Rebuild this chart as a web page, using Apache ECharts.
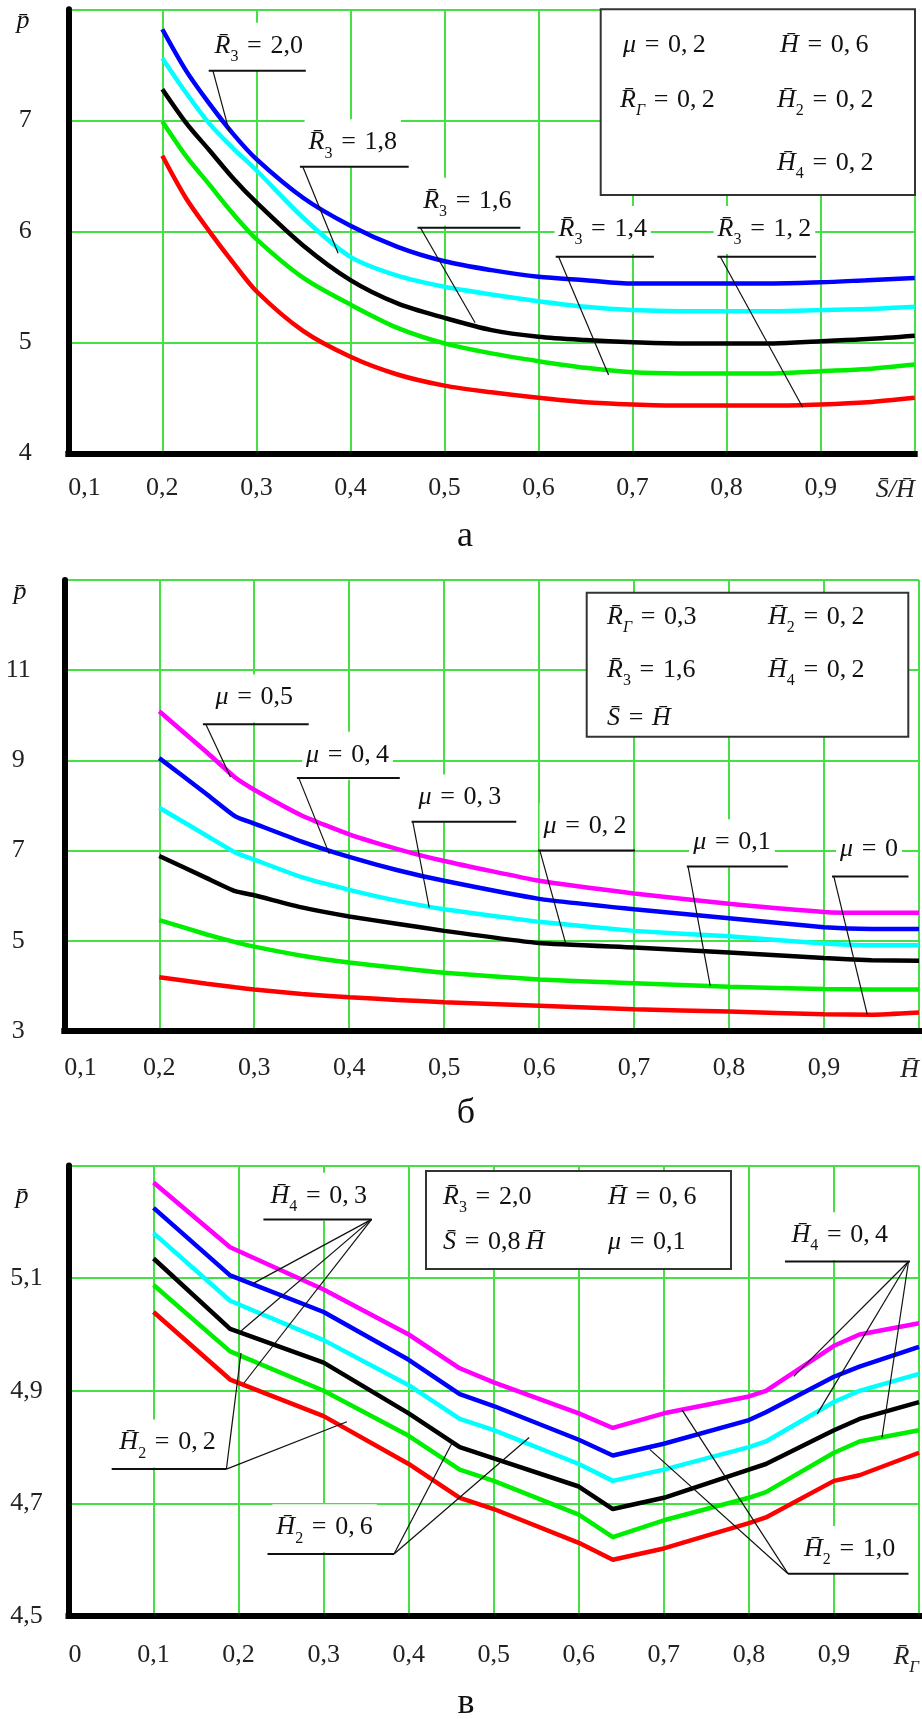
<!DOCTYPE html>
<html><head><meta charset="utf-8">
<script src="https://cdn.jsdelivr.net/npm/echarts@6/dist/echarts.min.js"></script>
<style>html,body{margin:0;padding:0;background:#fff}#c{width:922px;height:1719px}</style>
</head><body><div id="c"></div><script>
// ---------- Panel a: p vs S/H, curves for R3 ----------
const xA = [0.2,0.225,0.25,0.275,0.3,0.35,0.4,0.45,0.5,0.55,0.6,0.65,0.7,0.75,0.8,0.85,0.9,0.95,1.0];
const aR20 = [7.82,7.45,7.15,6.88,6.65,6.30,6.05,5.86,5.73,5.65,5.59,5.56,5.53,5.53,5.53,5.53,5.54,5.56,5.58];
const aR18 = [7.56,7.25,6.97,6.75,6.55,6.12,5.77,5.60,5.50,5.43,5.37,5.32,5.29,5.28,5.28,5.28,5.29,5.30,5.32];
const aR16 = [7.28,6.98,6.73,6.48,6.26,5.87,5.56,5.35,5.22,5.11,5.05,5.02,5.00,4.99,4.99,4.99,5.01,5.03,5.06];
const aR14 = [6.99,6.68,6.42,6.16,5.93,5.58,5.34,5.13,4.99,4.90,4.83,4.77,4.73,4.72,4.72,4.72,4.74,4.76,4.80];
const aR12 = [6.68,6.30,6.00,5.72,5.46,5.10,4.87,4.71,4.61,4.55,4.50,4.46,4.44,4.43,4.43,4.43,4.44,4.46,4.50];
const aXTicks = [0.1,1.0,0.1];   // min, max, step
const aYTicks = [4,8,1];

// ---------- Panel б: p vs H, curves for mu ----------
const xB = [0.2,0.25,0.28,0.3,0.35,0.4,0.45,0.5,0.6,0.7,0.8,0.9,0.95,1.0];
const bMu5 = [10.09,9.18,8.62,8.35,7.78,7.36,7.04,6.77,6.33,6.05,5.82,5.64,5.62,5.62];
const bMu4 = [9.05,8.25,7.76,7.60,7.20,6.86,6.57,6.33,5.93,5.70,5.50,5.30,5.26,5.26];
const bMu3 = [7.95,7.33,6.96,6.80,6.41,6.13,5.89,5.70,5.42,5.22,5.10,4.94,4.90,4.90];
const bMu2 = [6.88,6.39,6.10,6.01,5.74,5.54,5.38,5.22,4.95,4.85,4.74,4.62,4.57,4.56];
const bMu1 = [5.46,5.14,4.97,4.87,4.67,4.52,4.40,4.29,4.14,4.06,3.98,3.93,3.92,3.92];
const bMu0 = [4.19,4.05,3.97,3.92,3.82,3.75,3.69,3.64,3.56,3.48,3.43,3.37,3.36,3.41];
const bXTicks = [0.1,1.0,0.1];
const bYTicks = [3,13,2];

// ---------- Panel в: p vs R_Г, curves for H4 / H2 ----------
const xC = [0.1,0.19,0.3,0.4,0.46,0.5,0.6,0.64,0.7,0.8,0.82,0.9,0.93,1.0];
const cM = [5.27,5.155,5.08,5.00,4.94,4.915,4.86,4.834,4.86,4.89,4.90,4.98,5.00,5.02];
const cB = [5.225,5.105,5.04,4.955,4.894,4.873,4.813,4.785,4.806,4.848,4.862,4.925,4.943,4.978];
const cC = [5.18,5.06,4.99,4.91,4.85,4.83,4.77,4.74,4.76,4.80,4.81,4.88,4.90,4.93];
const cK = [5.135,5.01,4.95,4.86,4.80,4.78,4.73,4.69,4.71,4.76,4.77,4.83,4.85,4.88];
const cG = [5.088,4.97,4.90,4.82,4.76,4.74,4.68,4.64,4.67,4.71,4.72,4.79,4.81,4.83];
const cR = [5.04,4.92,4.855,4.77,4.71,4.69,4.63,4.60,4.62,4.665,4.675,4.74,4.75,4.79];
const cXTicks = [0,1.0,0.1];
const cYTicks = [4.5,5.3,0.2];

const COL = {mag:'#ff00ff', blue:'#0000ff', cyan:'#00ffff', black:'#000000', green:'#00ee00', red:'#ff0000'};
const SERIF = 'Liberation Serif';
const GRIDGREEN = '#44e044';

const chart = echarts.init(document.getElementById('c'), null, {renderer:'canvas', width:922, height:1719});

const axRich = {
  it:{fontFamily:SERIF, fontStyle:'italic', fontSize:26, color:'#222', lineHeight:30},
  sub:{fontFamily:SERIF, fontStyle:'italic', fontSize:17, color:'#222', lineHeight:17, padding:[22,0,0,0]}
};
function fmtNum(v){
  const r = Math.round(v*10)/10;
  return r === 0 ? '0' : r.toFixed(1).replace('.', ',');
}

function xAxis(gi, t, margin, lastName){
  return {gridIndex:gi, type:'value', min:t[0], max:t[1], interval:t[2],
    axisLine:{show:true, onZero:false, lineStyle:{color:'#000', width:6, cap:'square'}},
    axisTick:{show:false},
    splitLine:{show:true, lineStyle:{color:GRIDGREEN, width:2}},
    axisLabel:{margin:margin, fontFamily:SERIF, fontSize:26, color:'#222',
      showMinLabel:true, showMaxLabel:true, alignMinLabel:'left', alignMaxLabel:'right',
      rich:axRich,
      formatter:function(v){ return Math.abs(v-t[1])<1e-6 ? lastName : fmtNum(v); }}
  };
}
function yAxis(gi, t, margin, dec){
  return {gridIndex:gi, type:'value', min:t[0], max:t[1], interval:t[2],
    axisLine:{show:true, onZero:false, lineStyle:{color:'#000', width:6}},
    axisTick:{show:false},
    splitLine:{show:true, lineStyle:{color:GRIDGREEN, width:2}},
    axisLabel:{margin:margin, align:'center', fontFamily:SERIF, fontSize:26, color:'#222',
      showMaxLabel:false,
      formatter:function(v){ return dec ? fmtNum(v) : String(Math.round(v)); }}
  };
}
function ser(gi, xs, ys, color, smooth){
  return {type:'line', xAxisIndex:gi, yAxisIndex:gi, data:xs.map((x,i)=>[x, ys[i]]),
    showSymbol:false, smooth:smooth, silent:true, z:3,
    lineStyle:{color:color, width:4.5}};
}

// ---------- annotations ----------
const RICH = {
  it:{fontFamily:SERIF, fontStyle:'italic', fontSize:26, lineHeight:30, fill:'#111'},
  n:{fontFamily:SERIF, fontSize:26, lineHeight:30, fill:'#111'},
  sub:{fontFamily:SERIF, fontSize:16, lineHeight:16, padding:[22,0,0,0], fill:'#111'},
  subi:{fontFamily:SERIF, fontStyle:'italic', fontSize:16, lineHeight:16, padding:[22,0,0,0], fill:'#111'}
};
const E = '\u2004=\u2004';
const S = {
  R3:(v)=>'{it|R\u0304}{sub|3}{n|'+E+v+'}',
  RG:(v)=>'{it|R\u0304}{subi|Г}{n|'+E+v+'}',
  H:(v)=>'{it|H\u0304}{n|'+E+v+'}',
  H2:(v)=>'{it|H\u0304}{sub|2}{n|'+E+v+'}',
  H4:(v)=>'{it|H\u0304}{sub|4}{n|'+E+v+'}',
  mu:(v)=>'{it|\u03bc}{n|'+E+v+'}'
};
const T = '\u2009';
const G = [];
function txt(s, x, y, align, bg){
  const st = {text:s, rich:RICH, align:align||'center', verticalAlign:'middle', fill:'#111'};
  if (bg) { st.backgroundColor = '#fff'; st.padding = [8,4,10,4]; }
  G.push({type:'text', x:x, y:y, z:50, silent:true, style:st});
}
function seg(x1,y1,x2,y2,w){
  G.push({type:'line', z:60, silent:true, shape:{x1:x1,y1:y1,x2:x2,y2:y2},
    style:{stroke:'#111', lineWidth:w||1.2}});
}
function leader(s, tx, ty, ux1, ux2, uy, ax, ay, ends){
  txt(s, tx, ty, 'center', true);
  seg(ux1, uy, ux2, uy, 2);
  ends.forEach(e=>seg(ax, ay, e[0], e[1], 1.2));
}
function box(x1,y1,x2,y2){
  G.push({type:'rect', z:30, silent:true, shape:{x:x1,y:y1,width:x2-x1,height:y2-y1},
    style:{fill:'#fff', stroke:'#333', lineWidth:2}});
}
function plain(s, x, y, size, fam, italic){
  G.push({type:'text', x:x, y:y, z:50, silent:true,
    style:{text:s, fontFamily:fam||SERIF, fontSize:size, fontStyle:italic?'italic':'normal',
      align:'center', verticalAlign:'middle', fill:'#111'}});
}

// panel a
leader(S.R3('2,0'), 258.7,46.7, 208.7,305.8,70.7, 212.9,70.7, [[229.3,131.7]]);
leader(S.R3('1,8'), 352.8,143.3, 299.9,408.7,166.7, 302.8,166.7, [[338.1,253.3]]);
leader(S.R3('1,6'), 467.4,201.7, 417.5,520.4,227.7, 420.4,227.7, [[475.1,322.7]]);
leader(S.R3('1,4'), 602.7,230, 555.7,653.9,256.7, 558.6,256.7, [[608.6,375]]);
leader(S.R3('1,'+T+'2'), 764.4,230, 717.4,816.1,256.7, 720.3,256.7, [[802.6,407.3]]);
box(600.7,9.3,915,195);
txt(S.mu('0,'+T+'2'), 623, 45, 'left');
txt(S.H('0,'+T+'6'), 780, 45, 'left');
txt(S.RG('0,'+T+'2'), 620, 100, 'left');
txt(S.H2('0,'+T+'2'), 777, 100, 'left');
txt(S.H4('0,'+T+'2'), 777, 163, 'left');
plain('p\u0304', 23, 21, 26, SERIF, true);
plain('a', 465, 537, 36, SERIF, false);

// panel б
leader(S.mu('0,5'), 254.3,698.6, 202.9,308.7,724.3, 205.8,724.3, [[230.5,777.1]]);
leader(S.mu('0,'+T+'4'), 347.5,755.7, 296.9,399.8,777.9, 298.7,777.9, [[329.3,853.9]]);
leader(S.mu('0,'+T+'3'), 459.8,798.6, 411.6,516.3,821.8, 412.8,821.8, [[429.2,907.5]]);
leader(S.mu('0,'+T+'2'), 585,827.1, 538,635,850.4, 539.8,850.4, [[565.6,943.2]]);
leader(S.mu('0,1'), 732,843.2, 686.8,787.9,866.4, 688,866.4, [[710.3,986.1]]);
leader(S.mu('0'), 869,850.4, 832,908.5,876.4, 833.8,876.4, [[867.3,1014.6]]);
box(586.7,592.7,908.3,736.7);
txt(S.RG('0,3'), 607, 617, 'left');
txt(S.H2('0,'+T+'2'), 768, 617, 'left');
txt(S.R3('1,6'), 607, 670, 'left');
txt(S.H4('0,'+T+'2'), 768, 670, 'left');
txt('{it|S\u0304}{n|'+E+'}{it|H\u0304}', 607, 718, 'left');
plain('p\u0304', 20, 592, 26, SERIF, true);
plain('\u0431', 466, 1114, 36, SERIF, false);

// panel в
leader(S.H4('0,'+T+'3'), 318.7,1196.7, 263.4,371.6,1219.4, 371.6,1219.4, [[252.8,1283.6],[241,1331],[244,1383]]);
leader(S.H4('0,'+T+'4'), 839.7,1236.2, 785,910,1261.5, 908.5,1261.5, [[817.3,1413.9],[882,1437.5],[793.8,1376.4]]);
leader(S.H2('0,'+T+'2'), 167.6,1443.5, 111.7,226.4,1469.1, 226.4,1469.1, [[346.9,1421.7],[241,1353]]);
leader(S.H2('0,'+T+'6'), 324.6,1528.3, 267.5,394,1554, 394,1554, [[452.8,1441.5],[529.2,1437.5]]);
leader(S.H2('1,0'), 849.7,1550, 788,908.5,1573.7, 788,1573.7, [[682,1409.9],[649.7,1449.4]]);
box(426,1171,731,1269);
txt(S.R3('2,0'), 443, 1197, 'left');
txt(S.H('0,'+T+'6'), 608, 1197, 'left');
txt('{it|S\u0304}{n|'+E+'0,8\u2009}{it|H\u0304}', 443, 1242, 'left');
txt(S.mu('0,1'), 608, 1242, 'left');
plain('p\u0304', 22, 1196, 26, SERIF, true);
plain('\u0432', 466, 1704, 36, SERIF, false);

chart.setOption({
  animation:false,
  backgroundColor:'#fff',
  grid:[
    {left:68.3, top:9.3, width:846.4, height:444},
    {left:64.3, top:580, width:855, height:451},
    {left:68.5, top:1165.6, width:858, height:450.4}
  ],
  xAxis:[
    xAxis(0, aXTicks, 22, '{it|S\u0304/H\u0304}'),
    xAxis(1, bXTicks, 24, '{it|H\u0304}'),
    xAxis(2, cXTicks, 26, '{it|R\u0304}{sub|Г}')
  ],
  yAxis:[
    yAxis(0, aYTicks, 43, false),
    yAxis(1, bYTicks, 46, false),
    yAxis(2, cYTicks, 42, true)
  ],
  series:[
    ser(0,xA,aR20,COL.blue,0.3), ser(0,xA,aR18,COL.cyan,0.3), ser(0,xA,aR16,COL.black,0.3),
    ser(0,xA,aR14,COL.green,0.3), ser(0,xA,aR12,COL.red,0.3),
    ser(1,xB,bMu5,COL.mag,0.15), ser(1,xB,bMu4,COL.blue,0.15), ser(1,xB,bMu3,COL.cyan,0.15),
    ser(1,xB,bMu2,COL.black,0.15), ser(1,xB,bMu1,COL.green,0.15), ser(1,xB,bMu0,COL.red,0.15),
    ser(2,xC,cM,COL.mag,false), ser(2,xC,cB,COL.blue,false), ser(2,xC,cC,COL.cyan,false),
    ser(2,xC,cK,COL.black,false), ser(2,xC,cG,COL.green,false), ser(2,xC,cR,COL.red,false)
  ],
  graphic:G
});
</script></body></html>
